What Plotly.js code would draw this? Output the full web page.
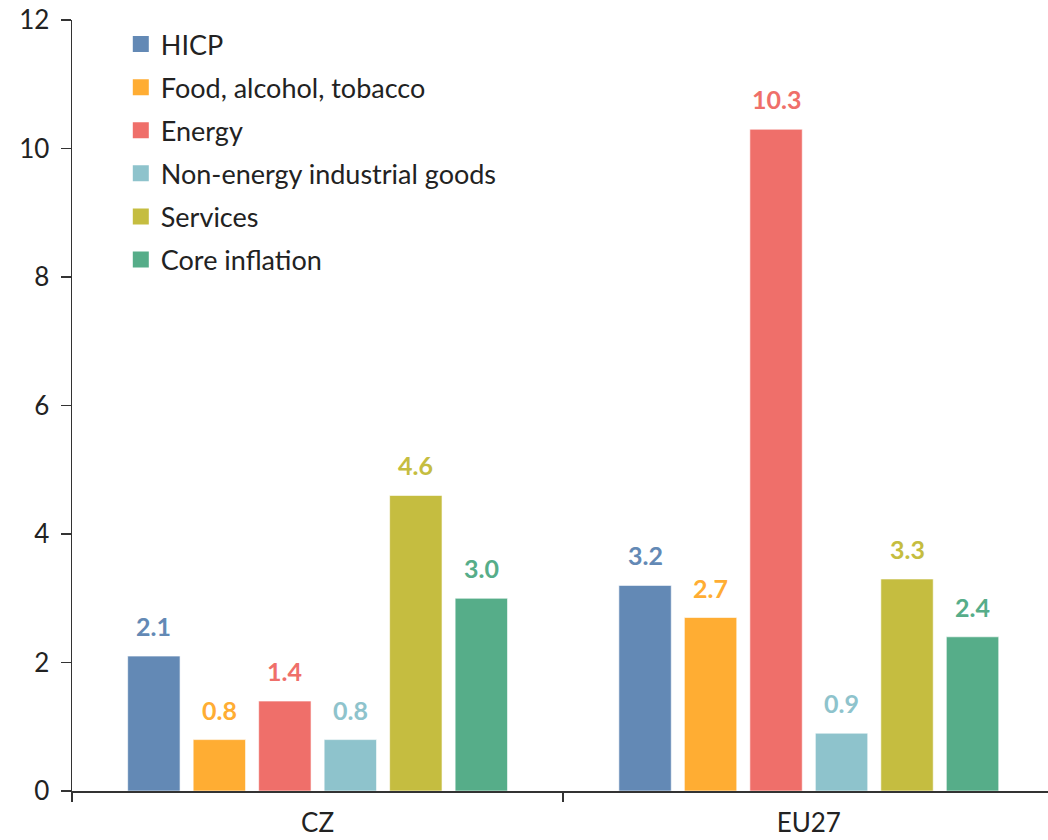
<!DOCTYPE html>
<html>
<head>
<meta charset="utf-8">
<script src="https://cdn.plot.ly/plotly-3.0.1.min.js"></script>
<style>html,body{margin:0;padding:0;background:#fff;}#chart{width:1048px;height:840px;}</style>
</head>
<body>
<div id="chart"></div>
<script>
const categories = ["CZ", "EU27"];
const seriesNames = ["HICP", "Food, alcohol, tobacco", "Energy", "Non-energy industrial goods", "Services", "Core inflation"];
const hicp = [2.1, 3.2];
const food = [0.8, 2.7];
const energy = [1.4, 10.3];
const nonEnergy = [0.8, 0.9];
const services = [4.6, 3.3];
const core = [3.0, 2.4];
const colors = ["#6389B5", "#FFAD33", "#EF6F6A", "#8EC3CC", "#C5BD40", "#56AD89"];
const yTicks = [0, 2, 4, 6, 8, 10, 12];

const seriesValues = [hicp, food, energy, nonEnergy, services, core];
const FONT = "Lato, 'Open Sans', sans-serif";
const BARGAP = 0.2;
const nSeries = seriesValues.length;

const traces = [];
seriesValues.forEach((vals, i) => {
  traces.push({
    type: "bar",
    name: seriesNames[i],
    x: categories,
    y: vals,
    showlegend: false,
    marker: {color: colors[i], line: {color: "rgba(255,255,255,0.6)", width: 1}},
    hoverinfo: "x+y+name"
  });
});
// legend entries (square swatches) for each series
seriesValues.forEach((vals, i) => {
  traces.push({
    type: "scatter",
    mode: "markers",
    name: seriesNames[i],
    x: [null], y: [null],
    legendgroup: "g" + i,
    marker: {symbol: "square", size: 16, color: colors[i]},
    hoverinfo: "skip"
  });
});

// value labels above bars, positioned on the category axis via group slots
const annotations = [];
seriesValues.forEach((vals, i) => {
  vals.forEach((v, c) => {
    const slot = (1 - BARGAP) / nSeries;
    annotations.push({
      xref: "x", yref: "y",
      x: c - (1 - BARGAP) / 2 + (i + 0.5) * slot,
      y: v,
      text: v.toFixed(1),
      showarrow: false,
      yanchor: "bottom",
      yshift: 13,
      font: {family: FONT, size: 25, color: colors[i], weight: "bold"}
    });
  });
});

const layout = {
  width: 1048, height: 840,
  margin: {l: 72, r: 0, t: 20, b: 49},
  paper_bgcolor: "#fff", plot_bgcolor: "#fff",
  font: {family: FONT, size: 26, color: "#222"},
  barmode: "group",
  bargap: BARGAP,
  bargroupgap: 0.2,
  showlegend: true,
  annotations: annotations,
  legend: {
    x: 0.05, y: 1.0, xanchor: "left", yanchor: "top",
    bgcolor: "rgba(0,0,0,0)",
    traceorder: "grouped",
    tracegroupgap: 5,
    itemsizing: "trace",
    font: {family: FONT, size: 27, color: "#222"}
  },
  xaxis: {
    type: "category",
    range: [-0.5, 1.487],
    showline: true, linecolor: "#333", linewidth: 1.5,
    ticks: "outside", tickson: "boundaries", ticklen: 9, tickcolor: "#333", tickwidth: 1.5,
    showgrid: false, zeroline: false,
    ticklabelstandoff: 8,
    tickfont: {family: FONT, size: 26, color: "#222"}
  },
  yaxis: {
    range: [0, 12],
    tickvals: yTicks,
    showline: true, linecolor: "#333", linewidth: 1.5,
    ticks: "outside", ticklen: 10, tickcolor: "#333", tickwidth: 1.5,
    showgrid: false, zeroline: false,
    ticklabelstandoff: 6,
    tickfont: {family: FONT, size: 26, color: "#222"}
  }
};

Plotly.newPlot("chart", traces, layout, {displayModeBar: false, staticPlot: true});
</script>
</body>
</html>
